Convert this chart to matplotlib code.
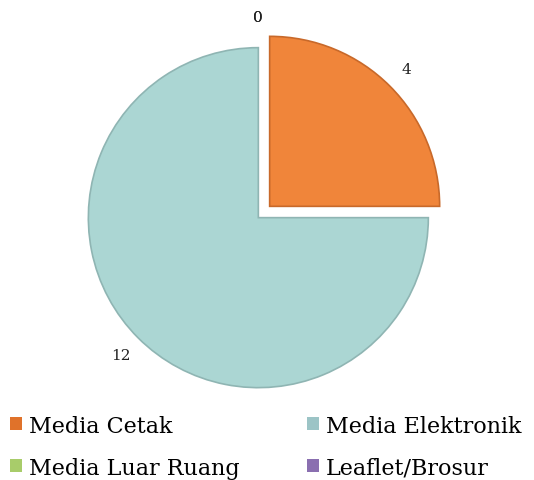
import matplotlib
matplotlib.use("Agg")
import matplotlib.pyplot as plt
from matplotlib.patches import Patch

categories = ["Media Cetak", "Media Elektronik", "Media Luar Ruang", "Leaflet/Brosur"]
values = [4, 12, 0, 0]
colors = ["#F0853A", "#ABD6D3", "#B5D77A", "#9A80BD"]
edge_colors = ["#C8692A", "#8FB5B3", "#9ABB60", "#7E66A0"]
legend_colors = ["#E0722A", "#9CC4C6", "#A8CC6A", "#8A6FB0"]

plt.rcParams['font.family'] = ['DejaVu Serif']

W, H = 534, 481
fig = plt.figure(figsize=(W / 100, H / 100), dpi=100)
ax = fig.add_axes([0, 0, 1, 1])

wedges, texts = ax.pie(values, colors=colors, labels=[str(v) for v in values],
                       startangle=90, counterclock=False,
                       center=(264, H - 213), radius=170,
                       explode=[8] * 4, labeldistance=1.14,
                       textprops=dict(fontsize=11, color="#222222"),
                       frame=True)
for w, ec, v in zip(wedges, edge_colors, values):
    w.set_edgecolor(ec)
    w.set_linewidth(1.2 if v > 0 else 0)
    if v == 0:
        w.set_visible(False)
ax.set_xlim(0, W)
ax.set_ylim(0, H)
ax.set_aspect('equal')
ax.axis('off')
for t, v in zip(texts, values):
    t.set_horizontalalignment('center')
    t.set_verticalalignment('center')
    if v == 0:
        x, y = t.get_position()
        t.set_position((x - 6, y - 7))

order = [0, 2, 1, 3]
handles = [Patch(facecolor=legend_colors[i], edgecolor='none') for i in order]
labels = [categories[i] for i in order]
leg = fig.legend(handles, labels, ncol=2, loc='upper left',
                 bbox_to_anchor=(0.018, 0.136), frameon=False,
                 borderpad=0, borderaxespad=0,
                 fontsize=16, handlelength=0.55, handleheight=0.55,
                 handletextpad=0.3, columnspacing=3.05, labelspacing=0.9)

fig.savefig("out.png", dpi=100)
